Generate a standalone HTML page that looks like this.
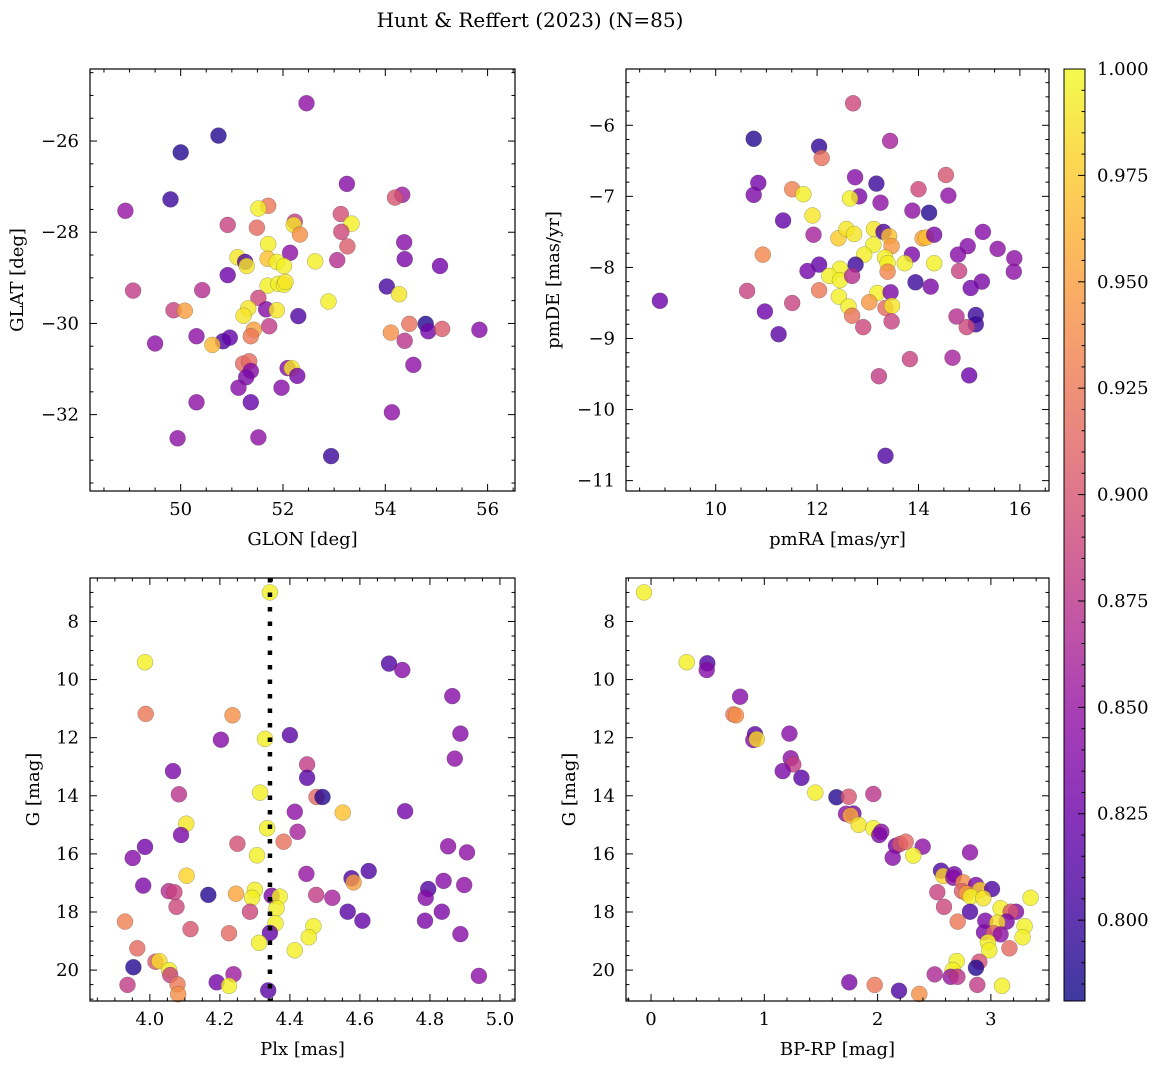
<!DOCTYPE html>
<html><head><meta charset="utf-8">
<style>
html,body{margin:0;padding:0;background:#fff;}
svg{display:block;font-family:"DejaVu Serif","Liberation Serif",serif;}
</style></head>
<body>
<svg id="fig" width="1161" height="1068" viewBox="0 0 1161 1068" xmlns="http://www.w3.org/2000/svg">
<defs>
<linearGradient id="plasma" x1="0" y1="1" x2="0" y2="0">
<stop offset="0" stop-color="#0d0887"/><stop offset="0.1" stop-color="#41049d"/>
<stop offset="0.2" stop-color="#6a00a8"/><stop offset="0.3" stop-color="#8f0da4"/>
<stop offset="0.4" stop-color="#b12a90"/><stop offset="0.5" stop-color="#cc4778"/>
<stop offset="0.6" stop-color="#e16462"/><stop offset="0.7" stop-color="#f2844b"/>
<stop offset="0.8" stop-color="#fca636"/><stop offset="0.9" stop-color="#fcce25"/>
<stop offset="1" stop-color="#f0f921"/>
</linearGradient>
</defs>
<text x="530" y="27" font-size="20" text-anchor="middle">Hunt &amp; Reffert (2023) (N=85)</text>
</svg>
<script>
// ---- data ----
const glon = [52.46,50.74,50.00,53.25,48.92,49.80,54.33,54.19,51.71,51.52,53.13,50.92,51.49,52.23,52.21,53.34,52.33,53.14,54.37,53.26,51.71,52.14,51.11,51.70,51.26,51.29,51.88,52.02,52.63,53.06,54.38,55.07,50.92,54.03,49.07,50.42,51.70,51.91,52.02,52.05,54.27,52.89,51.52,49.86,50.08,51.67,51.88,51.32,51.23,52.30,51.73,50.31,50.83,50.96,50.62,49.50,51.43,51.37,54.11,54.47,54.79,54.84,55.11,55.84,54.38,54.55,51.22,51.34,51.37,51.28,51.13,52.09,52.17,52.28,51.97,50.31,51.37,54.13,49.94,51.52,52.94];
const glat = [-25.17,-25.88,-26.25,-26.94,-27.53,-27.28,-27.18,-27.24,-27.42,-27.48,-27.60,-27.84,-27.90,-27.77,-27.84,-27.81,-28.05,-27.99,-28.22,-28.31,-28.26,-28.45,-28.55,-28.58,-28.65,-28.74,-28.65,-28.74,-28.64,-28.61,-28.59,-28.74,-28.94,-29.19,-29.28,-29.27,-29.17,-29.13,-29.15,-29.09,-29.36,-29.52,-29.44,-29.71,-29.72,-29.69,-29.71,-29.67,-29.83,-29.84,-30.06,-30.28,-30.39,-30.31,-30.47,-30.44,-30.14,-30.28,-30.20,-30.01,-30.01,-30.17,-30.12,-30.14,-30.38,-30.91,-30.88,-30.83,-31.04,-31.18,-31.41,-30.98,-30.98,-31.15,-31.41,-31.73,-31.73,-31.95,-32.52,-32.50,-32.91];
const probA = [0.845,0.79,0.79,0.84,0.85,0.80,0.855,0.90,0.925,0.995,0.895,0.885,0.915,0.88,0.99,0.995,0.94,0.89,0.84,0.905,0.995,0.845,0.99,0.97,0.81,0.99,0.995,0.995,0.995,0.87,0.835,0.83,0.825,0.805,0.88,0.87,0.995,0.995,0.995,0.99,0.99,0.995,0.89,0.885,0.95,0.84,0.99,0.99,0.99,0.81,0.88,0.845,0.81,0.82,0.965,0.845,0.95,0.925,0.94,0.92,0.79,0.83,0.905,0.84,0.875,0.845,0.915,0.915,0.84,0.835,0.84,0.84,0.99,0.83,0.84,0.845,0.82,0.845,0.845,0.845,0.80];

const pmra = [12.71,10.75,12.04,12.09,13.44,14.54,10.84,10.75,11.51,11.73,12.75,13.17,12.83,12.65,14.00,14.59,13.25,13.88,14.21,11.33,11.91,11.93,12.42,12.58,12.73,13.12,13.31,13.42,13.47,14.08,14.15,14.31,15.27,13.11,14.97,15.56,10.93,12.93,13.87,14.78,15.89,13.34,13.39,13.73,14.31,12.04,12.76,11.81,12.45,13.39,14.80,15.88,12.24,12.45,12.69,13.94,14.24,15.25,15.03,12.04,10.62,12.43,13.19,13.45,13.03,11.51,8.90,12.62,13.35,13.48,10.97,12.69,14.75,15.13,15.13,14.95,13.47,12.91,11.24,13.83,14.67,13.22,15.00,13.35];
const pmde = [-5.69,-6.19,-6.30,-6.46,-6.22,-6.70,-6.81,-6.98,-6.90,-6.97,-6.73,-6.82,-7.00,-7.03,-6.90,-6.99,-7.09,-7.20,-7.23,-7.34,-7.27,-7.54,-7.59,-7.46,-7.53,-7.46,-7.50,-7.56,-7.70,-7.59,-7.58,-7.54,-7.50,-7.68,-7.70,-7.74,-7.82,-7.82,-7.82,-7.82,-7.87,-7.86,-7.94,-7.94,-7.94,-7.96,-7.96,-8.05,-8.02,-8.06,-8.05,-8.06,-8.12,-8.18,-8.12,-8.21,-8.27,-8.20,-8.29,-8.32,-8.33,-8.41,-8.36,-8.35,-8.49,-8.50,-8.47,-8.55,-8.57,-8.54,-8.62,-8.68,-8.69,-8.67,-8.80,-8.84,-8.76,-8.84,-8.94,-9.29,-9.27,-9.53,-9.52,-10.65];
const probB = [0.89,0.79,0.795,0.92,0.86,0.90,0.83,0.835,0.93,0.995,0.84,0.80,0.835,0.995,0.89,0.845,0.845,0.845,0.79,0.82,0.99,0.86,0.975,0.99,0.99,0.99,0.81,0.97,0.945,0.95,0.97,0.835,0.84,0.995,0.84,0.845,0.935,0.995,0.835,0.84,0.845,0.995,0.995,0.995,0.995,0.82,0.80,0.83,0.995,0.935,0.885,0.845,0.995,0.995,0.87,0.80,0.835,0.835,0.83,0.925,0.885,0.995,0.995,0.835,0.945,0.885,0.825,0.995,0.915,0.99,0.825,0.92,0.87,0.80,0.80,0.89,0.885,0.89,0.815,0.885,0.86,0.88,0.825,0.81];

const plx = [4.343,3.986,3.988,4.236,4.683,4.721,4.864,4.203,4.329,4.400,4.887,4.871,4.066,4.449,4.449,4.083,4.315,4.476,4.493,4.551,4.414,4.729,4.104,4.089,4.335,4.422,4.250,4.382,4.306,3.986,3.951,4.852,4.906,4.105,4.447,4.625,4.576,4.582,4.839,4.898,4.795,3.981,4.054,4.070,4.167,4.246,4.300,4.292,4.348,4.371,4.362,4.475,4.521,4.788,4.076,4.286,4.565,4.834,3.929,4.607,4.786,4.359,4.116,4.226,4.343,4.467,4.454,4.887,4.312,4.414,3.964,3.953,4.016,4.027,4.055,4.058,4.239,4.940,3.936,4.079,4.191,4.226,4.081,4.338];
const gmagC = [7.00,9.40,11.18,11.23,9.45,9.67,10.57,12.07,12.04,11.91,11.86,12.72,13.15,12.92,13.38,13.95,13.89,14.04,14.04,14.58,14.55,14.53,14.96,15.35,15.12,15.24,15.65,15.58,16.05,15.76,16.14,15.74,15.95,16.75,16.69,16.59,16.84,16.98,16.93,17.07,17.21,17.09,17.28,17.32,17.41,17.37,17.24,17.51,17.44,17.47,17.87,17.41,17.51,17.51,17.82,17.99,17.99,17.99,18.33,18.30,18.30,18.39,18.59,18.73,18.72,18.49,18.87,18.76,19.06,19.32,19.25,19.90,19.71,19.69,20.00,20.17,20.14,20.20,20.51,20.49,20.42,20.54,20.83,20.70];
const probC = [0.995,0.995,0.925,0.94,0.81,0.84,0.84,0.84,0.995,0.815,0.84,0.845,0.835,0.88,0.815,0.875,0.995,0.915,0.79,0.97,0.845,0.83,0.99,0.835,0.995,0.86,0.895,0.92,0.995,0.83,0.84,0.845,0.845,0.98,0.85,0.81,0.81,0.95,0.84,0.845,0.81,0.835,0.87,0.885,0.79,0.955,0.995,0.995,0.835,0.995,0.995,0.88,0.86,0.84,0.89,0.89,0.815,0.835,0.93,0.82,0.835,0.995,0.90,0.915,0.82,0.995,0.995,0.84,0.995,0.995,0.915,0.79,0.90,0.985,0.995,0.885,0.855,0.845,0.88,0.925,0.83,0.995,0.94,0.815];

const bprp = [-0.062,0.315,0.497,0.491,0.786,0.727,0.750,0.918,0.903,0.933,1.221,1.233,1.256,1.162,1.327,1.450,1.636,1.745,1.962,1.721,1.786,1.762,1.833,1.962,2.033,2.015,2.162,2.198,2.248,2.398,2.133,2.315,2.816,2.560,2.580,2.677,2.668,2.757,2.869,2.745,2.786,2.904,3.010,2.822,2.933,2.527,3.351,2.586,2.816,3.086,3.222,3.175,2.951,3.139,2.707,3.057,3.298,2.939,3.027,3.086,3.280,2.974,2.986,3.163,2.698,2.898,2.869,2.663,2.504,2.645,2.704,2.880,3.098,1.750,1.974,2.189,2.368];
const gmagD = [7.00,9.40,9.44,9.67,10.59,11.20,11.23,11.88,12.08,12.05,11.86,12.71,12.92,13.15,13.38,13.89,14.05,14.03,13.94,14.62,14.61,14.68,15.00,15.12,15.24,15.35,15.72,15.66,15.58,15.75,16.13,16.06,15.95,16.58,16.76,16.70,16.82,16.98,17.07,17.28,17.36,17.24,17.21,17.47,17.53,17.32,17.51,17.82,17.99,17.87,17.99,17.99,18.30,18.33,18.33,18.37,18.49,18.70,18.73,18.77,18.87,19.04,19.32,19.25,19.69,19.71,19.92,20.00,20.15,20.23,20.23,20.51,20.54,20.42,20.51,20.71,20.82];
const probD = [0.995,0.995,0.81,0.84,0.84,0.925,0.94,0.815,0.84,0.985,0.84,0.845,0.88,0.835,0.815,0.995,0.79,0.90,0.875,0.845,0.83,0.96,0.99,0.995,0.845,0.835,0.83,0.90,0.915,0.845,0.84,0.995,0.845,0.81,0.98,0.83,0.84,0.94,0.835,0.905,0.95,0.98,0.81,0.995,0.99,0.885,0.995,0.89,0.81,0.995,0.84,0.90,0.835,0.835,0.925,0.985,0.995,0.835,0.91,0.845,0.995,0.995,0.995,0.915,0.995,0.895,0.79,0.995,0.865,0.85,0.875,0.88,0.995,0.835,0.925,0.81,0.94];

const plxCut = [4.343];
const cbarTicks = [0.800,0.825,0.850,0.875,0.900,0.925,0.950,0.975,1.000];
const vmin = 0.781, vmax = 1.0;

// ---- rendering ----
const NS = 'http://www.w3.org/2000/svg';
const svg = document.getElementById('fig');
function mk(tag, attrs, parent){ const e=document.createElementNS(NS,tag); for(const k in attrs) e.setAttribute(k,attrs[k]); (parent||svg).appendChild(e); return e; }
const stops = [[13,8,135],[65,4,157],[106,0,168],[143,13,164],[177,42,144],[204,71,120],[225,100,98],[242,132,75],[252,166,54],[252,206,37],[240,249,33]];
function plasma(v){ let t=(v-vmin)/(vmax-vmin); t=Math.max(0,Math.min(1,t))*10; const i=Math.min(9,Math.floor(t)); const f=t-i; const a=stops[i],b=stops[i+1]; return 'rgb('+a.map((c,j)=>Math.round(c+(b[j]-c)*f)).join(',')+')'; }
const FS = 18;
function fmt(v, dec){ const s=Math.abs(v).toFixed(dec); return (v<0?'\u2212':'')+s; }

function panel(cfg){
  const g = mk('g',{});
  
  
  const {x0,x1,y0,y1,xd,yd} = cfg;
  const sx = v => x0 + (v-xd[0])/(xd[1]-xd[0])*(x1-x0);
  const sy = v => y1 - (v-yd[0])/(yd[1]-yd[0])*(y1-y0);
  const pg = mk('g',{},g);
  
  
  for(let i=0;i<cfg.xs.length;i++){
    const c = mk('circle',{cx:sx(cfg.xs[i]).toFixed(1),cy:sy(cfg.ys[i]).toFixed(1),r:8,fill:plasma(cfg.ps[i]),'fill-opacity':0.8,stroke:'rgba(60,60,60,0.45)','stroke-width':0.5},pg);
    
    
  }
  if(cfg.vline){
    for(const v of cfg.vline){
      const l = mk('line',{x1:sx(v),x2:sx(v),y1:y0,y2:y1,stroke:'#000','stroke-width':4.5,'stroke-dasharray':'4.5 10'},g);
      
      
    }
  }
  const tg = mk('g',{stroke:'#000','stroke-width':1},g);
  const eps=1e-9;
  function ticksAxis(dom, step, minor, isX){
    const start=Math.ceil((dom[0]-eps)/minor)*minor;
    for(let v=start; v<=dom[1]+eps; v+=minor){
      const major = Math.abs(v/step - Math.round(v/step))<1e-6;
      const L = major?7:3.5;
      if(isX){ const p=sx(v); mk('line',{x1:p,x2:p,y1:y1,y2:y1-L},tg); mk('line',{x1:p,x2:p,y1:y0,y2:y0+L},tg); }
      else { const p=sy(v); mk('line',{x1:x0,x2:x0+L,y1:p,y2:p},tg); mk('line',{x1:x1,x2:x1-L,y1:p,y2:p},tg); }
      if(major){
        const t = mk('text',{'font-size':FS,'text-anchor':isX?'middle':'end'},g);
        if(isX){ t.setAttribute('x',sx(v)); t.setAttribute('y',y1+24); }
        else { t.setAttribute('x',x0-11); t.setAttribute('y',sy(v)+6); }
        t.textContent = fmt(v, isX?cfg.xdec:cfg.ydec);
        
        
      }
    }
  }
  ticksAxis(xd, cfg.xstep, cfg.xminor, true);
  ticksAxis([Math.min(yd[0],yd[1]),Math.max(yd[0],yd[1])], cfg.ystep, cfg.yminor, false);
  const fr = mk('rect',{x:x0,y:y0,width:x1-x0,height:y1-y0,fill:'none',stroke:'#000','stroke-width':1.2},g);
  
  
  const xl = mk('text',{x:(x0+x1)/2,y:y1+54,'font-size':FS,'text-anchor':'middle'},g);
  xl.textContent = cfg.xlabel;
  
  
  const yx = cfg.ylabX, yy=(y0+y1)/2;
  const yl = mk('text',{x:yx,y:yy,'font-size':FS,'text-anchor':'middle',transform:'rotate(-90 '+yx+' '+yy+')'},g);
  yl.textContent = cfg.ylabel;
  
  
}

panel({name:'glon-glat-panel',x0:90,x1:515,y0:69,y1:491,xd:[48.227,56.536],yd:[-33.675,-24.42],xs:glon,ys:glat,ps:probA,xstep:2,xminor:0.5,ystep:2,yminor:0.5,xdec:0,ydec:0,xlabel:'GLON [deg]',ylabel:'GLAT [deg]',ylabX:23});
panel({name:'proper-motion-panel',x0:626,x1:1049,y0:69,y1:491,xd:[8.231,16.574],yd:[-11.146,-5.208],xs:pmra,ys:pmde,ps:probB,xstep:2,xminor:0.5,ystep:1,yminor:0.2,xdec:0,ydec:0,xlabel:'pmRA [mas/yr]',ylabel:'pmDE [mas/yr]',ylabX:559});
panel({name:'plx-g-panel',x0:90,x1:515,y0:578,y1:1001,xd:[3.829,5.043],yd:[21.064,6.503],xs:plx,ys:gmagC,ps:probC,xstep:0.2,xminor:0.05,ystep:2,yminor:0.5,xdec:1,ydec:0,xlabel:'Plx [mas]',ylabel:'G [mag]',ylabX:39,vline:plxCut});
panel({name:'cmd-panel',x0:626,x1:1049,y0:578,y1:1001,xd:[-0.221,3.513],yd:[21.064,6.503],xs:bprp,ys:gmagD,ps:probD,xstep:1,xminor:0.2,ystep:2,yminor:0.5,xdec:0,ydec:0,xlabel:'BP-RP [mag]',ylabel:'G [mag]',ylabX:575});

(function(){
  const cx0=1064,cx1=1085,cy0=69,cy1=1001;
  const g = mk('g',{});
  
  
  const r = mk('rect',{x:cx0,y:cy0,width:cx1-cx0,height:cy1-cy0,fill:'url(#plasma)','fill-opacity':0.8},g);
  
  
  mk('rect',{x:cx0,y:cy0,width:cx1-cx0,height:cy1-cy0,fill:'none',stroke:'#000','stroke-width':1},g);
  const cs = v => cy1 - (v-vmin)/(vmax-vmin)*(cy1-cy0);
  for(let k=Math.ceil(vmin/0.005); k*0.005<=vmax+1e-9; k++){
    const v=k*0.005, p=cs(v);
    const major = cbarTicks.some(t=>Math.abs(t-v)<1e-6);
    mk('line',{x1:cx1,x2:cx1-(major?7:3.5),y1:p,y2:p,stroke:'#000','stroke-width':1},g);
  }
  for(const v of cbarTicks){
    const t = mk('text',{x:1097,y:cs(v)+6,'font-size':FS},g);
    t.textContent = v.toFixed(3);
    
    
  }
})();
</script>
</body></html>
